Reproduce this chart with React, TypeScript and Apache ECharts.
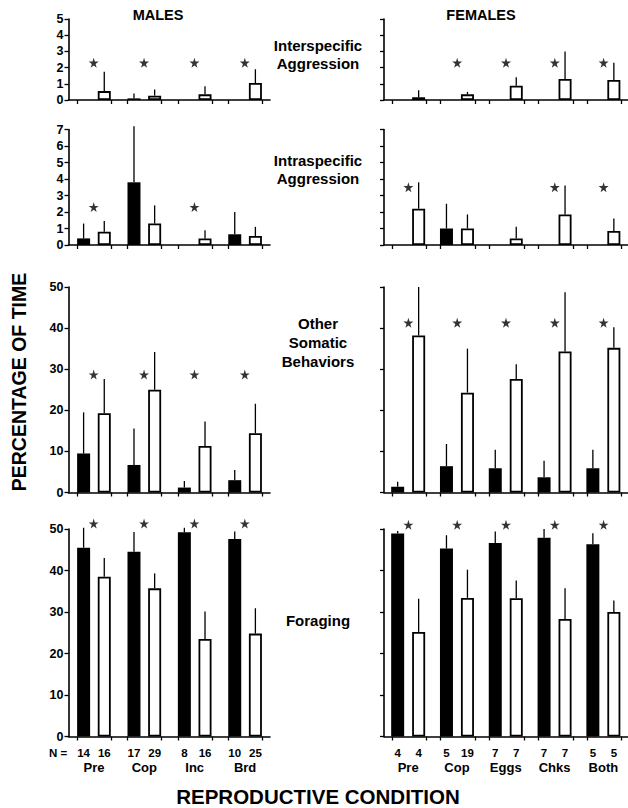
import React, { useEffect, useRef } from "react";
import * as echarts from "echarts";

// ---------- categories ----------
const maleGroups = ["Pre", "Cop", "Inc", "Brd"];
const femaleGroups = ["Pre", "Cop", "Eggs", "Chks", "Both"];
const maleNBlack = [14, 17, 8, 10];
const maleNWhite = [16, 29, 16, 25];
const femaleNBlack = [4, 5, 7, 7, 5];
const femaleNWhite = [4, 19, 7, 7, 5];

// ---------- Interspecific aggression ----------
const interMaleBlack = [0, 0.1, 0, 0];
const interMaleBlackErr = [null, 0.4, null, null];
const interMaleWhite = [0.55, 0.27, 0.35, 1.05];
const interMaleWhiteErr = [1.75, 0.65, 0.85, 1.9];
const interMaleStars = [2.3, 2.3, 2.3, 2.3];
const interFemaleBlack = [0, 0, 0, 0, 0];
const interFemaleBlackErr = [null, null, null, null, null];
const interFemaleWhite = [0.17, 0.35, 0.88, 1.3, 1.23];
const interFemaleWhiteErr = [0.6, 0.5, 1.4, 3.0, 2.3];
const interFemaleStars = [null, 2.3, 2.3, 2.3, 2.3];

// ---------- Intraspecific aggression ----------
const intraMaleBlack = [0.4, 3.8, 0, 0.65];
const intraMaleBlackErr = [1.3, 7.2, null, 2.0];
const intraMaleWhite = [0.8, 1.3, 0.4, 0.55];
const intraMaleWhiteErr = [1.45, 2.4, 0.9, 1.1];
const intraMaleStars = [2.3, null, 2.3, null];
const intraFemaleBlack = [0, 1.0, 0, 0, 0];
const intraFemaleBlackErr = [null, 2.5, null, null, null];
const intraFemaleWhite = [2.2, 1.0, 0.4, 1.85, 0.85];
const intraFemaleWhiteErr = [3.8, 1.85, 1.1, 3.6, 1.6];
const intraFemaleStars = [3.5, null, null, 3.5, 3.5];

// ---------- Other somatic behaviors ----------
const somMaleBlack = [9.5, 6.7, 1.2, 3.0];
const somMaleBlackErr = [19.5, 15.6, 2.8, 5.5];
const somMaleWhite = [19.3, 25, 11.3, 14.4];
const somMaleWhiteErr = [27.6, 34.2, 17.3, 21.6];
const somMaleStars = [28.7, 28.7, 28.7, 28.7];
const somFemaleBlack = [1.4, 6.4, 5.9, 3.7, 5.9];
const somFemaleBlackErr = [2.6, 11.8, 10.4, 7.7, 10.4];
const somFemaleWhite = [38.2, 24.3, 27.6, 34.3, 35.2];
const somFemaleWhiteErr = [50, 35, 31.2, 48.7, 40.2];
const somFemaleStars = [41.3, 41.3, 41.3, 41.3, 41.3];

// ---------- Foraging ----------
const forMaleBlack = [45.5, 44.5, 49.2, 47.6];
const forMaleBlackErr = [50.3, 49.3, 50.3, 49.4];
const forMaleWhite = [38.5, 35.7, 23.5, 24.8];
const forMaleWhiteErr = [43, 39.3, 30.1, 30.9];
const forMaleStars = [51.3, 51.3, 51.3, 51.3];
const forFemaleBlack = [48.9, 45.3, 46.6, 47.9, 46.3];
const forFemaleBlackErr = [49.5, 48.5, 49.4, 50, 49];
const forFemaleWhite = [25.2, 33.4, 33.3, 28.3, 30];
const forFemaleWhiteErr = [33.2, 40.2, 37.6, 35.7, 32.8];
const forFemaleStars = [51, 51, 51, 51, 51];

// ---------- axis scales ----------
const rowMax = [5, 7, 50, 50];
const rowInterval = [1, 1, 10, 10];
const rowTitles = [
  "Interspecific\nAggression",
  "Intraspecific\nAggression",
  "Other\nSomatic\nBehaviors",
  "Foraging",
];

const FONT = "'Liberation Sans', Arial, Helvetica, sans-serif";
const STAR =
  "path://M50,0 L61,35 L98,35 L68,57 L79,91 L50,70 L21,91 L32,57 L2,35 L39,35 Z";

// layout (pixels)
const rows = [
  { top: 19, bottom: 100 },
  { top: 129.5, bottom: 245 },
  { top: 287, bottom: 492.5 },
  { top: 529, bottom: 736.5 },
];
const cols = [
  { left: 68.5, width: 201.5, bOff: 0.3, wOff: 0.71, t1: 0.17, t2: 0.85, s: 0.5 },
  { left: 384, width: 247.5, bOff: 0.28, wOff: 0.71, t1: 0.16, t2: 0.87, s: 0.5 },
];

const panels = [
  [
    [interMaleBlack, interMaleBlackErr, interMaleWhite, interMaleWhiteErr, interMaleStars],
    [interFemaleBlack, interFemaleBlackErr, interFemaleWhite, interFemaleWhiteErr, interFemaleStars],
  ],
  [
    [intraMaleBlack, intraMaleBlackErr, intraMaleWhite, intraMaleWhiteErr, intraMaleStars],
    [intraFemaleBlack, intraFemaleBlackErr, intraFemaleWhite, intraFemaleWhiteErr, intraFemaleStars],
  ],
  [
    [somMaleBlack, somMaleBlackErr, somMaleWhite, somMaleWhiteErr, somMaleStars],
    [somFemaleBlack, somFemaleBlackErr, somFemaleWhite, somFemaleWhiteErr, somFemaleStars],
  ],
  [
    [forMaleBlack, forMaleBlackErr, forMaleWhite, forMaleWhiteErr, forMaleStars],
    [forFemaleBlack, forFemaleBlackErr, forFemaleWhite, forFemaleWhiteErr, forFemaleStars],
  ],
];

function buildOption() {
  const grid: any[] = [];
  const xAxis: any[] = [];
  const yAxis: any[] = [];
  const series: any[] = [];

  rows.forEach((r, ri) => {
    cols.forEach((c, ci) => {
      const gi = grid.length;
      const [black, blackErr, white, whiteErr, stars] = panels[ri][ci] as any[];
      const n = black.length;
      const groups = ci === 0 ? maleGroups : femaleGroups;
      const nB = ci === 0 ? maleNBlack : femaleNBlack;
      const nW = ci === 0 ? maleNWhite : femaleNWhite;
      grid.push({ left: c.left, top: r.top, width: c.width, height: r.bottom - r.top });

      const tickVals: number[] = [];
      const barCenters: number[] = [];
      const groupCenters: number[] = [];
      for (let i = 0; i < n; i++) {
        tickVals.push(i + c.t1, i + c.t2);
        barCenters.push(i + c.bOff, i + c.wOff);
        groupCenters.push(i + (c.bOff + c.wOff) / 2);
      }
      const bottomRow = ri === rows.length - 1;

      const xIdx = xAxis.length;
      xAxis.push({
        type: "value",
        gridIndex: gi,
        min: 0,
        max: n,
        position: "bottom",
        splitLine: { show: false },
        axisLine: { show: true, onZero: false, lineStyle: { color: "#000", width: 1.6 } },
        axisTick: {
          show: true,
          customValues: tickVals,
          length: 4,
          lineStyle: { color: "#000", width: 1.3 },
        },
        axisLabel: {
          show: bottomRow,
          customValues: barCenters,
          margin: 10,
          color: "#000",
          fontFamily: FONT,
          fontWeight: "bold",
          fontSize: 11.5,
          formatter: (v: number) => {
            const i = Math.floor(v + 1e-6);
            const frac = v - i;
            return String(frac < (c.bOff + c.wOff) / 2 ? nB[i] : nW[i]);
          },
        },
      });
      if (bottomRow) {
        xAxis.push({
          type: "value",
          gridIndex: gi,
          min: 0,
          max: n,
          position: "bottom",
          splitLine: { show: false },
          axisLine: { show: false },
          axisTick: { show: false },
          axisLabel: {
            show: true,
            customValues: groupCenters,
            margin: 24,
            color: "#000",
            fontFamily: FONT,
            fontWeight: "bold",
            fontSize: 13,
            formatter: (v: number) => groups[Math.floor(v + 1e-6)],
          },
        });
      }
      yAxis.push({
        type: "value",
        gridIndex: gi,
        min: 0,
        max: rowMax[ri],
        interval: rowInterval[ri],
        splitLine: { show: false },
        axisLine: { show: true, lineStyle: { color: "#000", width: 1.6 } },
        axisTick: { show: true, length: 4, lineStyle: { color: "#000", width: 1.3 } },
        axisLabel: {
          show: ci === 0,
          margin: 5,
          color: "#000",
          fontFamily: FONT,
          fontWeight: "bold",
          fontSize: 12.5,
        },
      });

      const barData: any[] = [];
      const errData: any[] = [];
      const starData: any[] = [];
      for (let i = 0; i < n; i++) {
        barData.push({
          value: [i + c.bOff, black[i]],
          itemStyle: { color: "#000", borderWidth: 0 },
        });
        barData.push({
          value: [i + c.wOff, white[i]],
          itemStyle: { color: "#fff", borderColor: "#000", borderWidth: 1.8 },
        });
        if (blackErr[i] != null) errData.push([i + c.bOff, black[i], blackErr[i]]);
        if (whiteErr[i] != null) errData.push([i + c.wOff, white[i], whiteErr[i]]);
        if (stars[i] != null) starData.push([i + c.s, stars[i]]);
      }

      series.push({
        type: "bar",
        xAxisIndex: xIdx,
        yAxisIndex: gi,
        barWidth: 13,
        data: barData,
        z: 2,
      });
      series.push({
        type: "custom",
        xAxisIndex: xIdx,
        yAxisIndex: gi,
        encode: { x: 0, y: [1, 2] },
        clip: false,
        z: 3,
        renderItem: (_p: any, api: any) => {
          const p0 = api.coord([api.value(0), api.value(1)]);
          const p1 = api.coord([api.value(0), api.value(2)]);
          return {
            type: "line",
            shape: { x1: p0[0], y1: p0[1], x2: p1[0], y2: p1[1] },
            style: { stroke: "#000", lineWidth: 1.3 },
          };
        },
        data: errData,
      });
      series.push({
        type: "scatter",
        xAxisIndex: xIdx,
        yAxisIndex: gi,
        symbol: STAR,
        symbolSize: 10,
        clip: false,
        itemStyle: { color: "#000" },
        data: starData,
        z: 4,
      });
    });
  });

  const txt = (x: number, y: number, text: string, size: number, extra: any = {}) => ({
    type: "text",
    x,
    y,
    style: {
      text,
      fill: "#000",
      font: `bold ${size}px ${FONT}`,
      textAlign: "center",
      verticalAlign: "middle",
      ...extra,
    },
  });

  const graphic: any[] = [
    txt(158, 15, "MALES", 14.5),
    txt(481, 15, "FEMALES", 14.5),
    txt(318, 54, rowTitles[0], 15, { lineHeight: 18 }),
    txt(318, 169, rowTitles[1], 15, { lineHeight: 18 }),
    txt(318, 342, rowTitles[2], 15, { lineHeight: 19 }),
    txt(318, 620, rowTitles[3], 15),
    txt(58, 753, "N =", 11.5),
    txt(318, 796, "REPRODUCTIVE CONDITION", 20.5),
    {
      type: "text",
      x: 19,
      y: 382,
      rotation: Math.PI / 2,
      style: {
        text: "PERCENTAGE OF TIME",
        fill: "#000",
        font: `bold 19.5px ${FONT}`,
        textAlign: "center",
        verticalAlign: "middle",
      },
    },
  ];

  return {
    animation: false,
    backgroundColor: "#fff",
    grid,
    xAxis,
    yAxis,
    series,
    graphic,
  };
}

export default function App() {
  const ref = useRef<HTMLDivElement>(null);
  useEffect(() => {
    if (!ref.current) return;
    const chart = echarts.init(ref.current, undefined, { renderer: "svg" });
    chart.setOption(buildOption() as any);
    return () => chart.dispose();
  }, []);
  return (
    <div
      ref={ref}
      style={{ position: "absolute", left: 0, top: 0, width: 628, height: 808, background: "#fff" }}
    />
  );
}
